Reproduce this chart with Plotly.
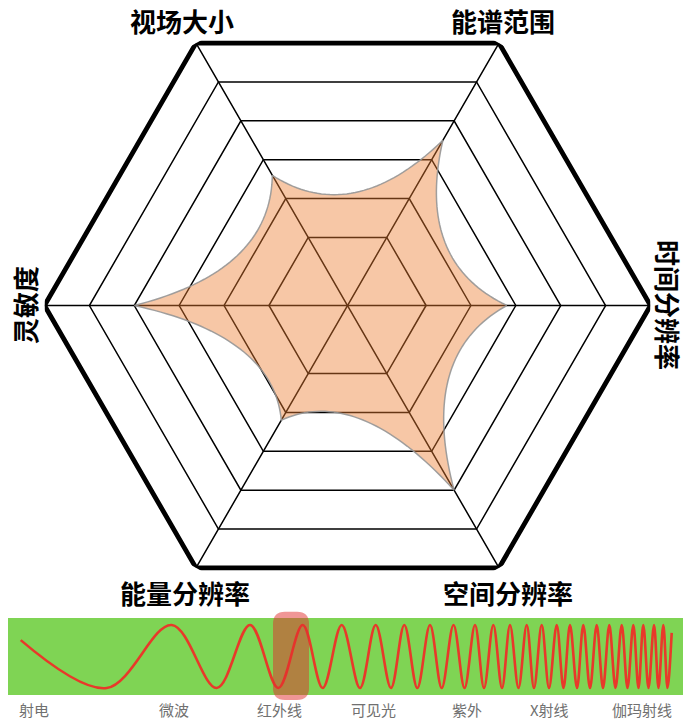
import math
import plotly.graph_objects as go

# ---------------- Radar data ----------------
categories = ["时间分辨率", "能谱范围", "视场大小", "灵敏度", "能量分辨率", "空间分辨率"]
angles = [0, 60, 120, 180, 240, 300]
values = [2.8, 3.5, 2.6, 4.0, 2.2, 4.0]
ring_levels = [1, 2, 3, 4, 5, 6]
radial_min = -0.75
curvature = 0.53  # how far the concave edge control point sits from the centre

# ---------------- Spectrum strip data ----------------
spectrum_labels = ["射电", "微波", "红外线", "可见光", "紫外", "X射线", "伽玛射线"]
spectrum_label_pos = [34, 174, 279, 373, 467, 549, 642]
wave_x = [20.7, 106.7, 171.7, 216.7, 250, 278.3, 302.7, 322.7, 341.7, 360,
          375.7, 391, 404.3, 417.3, 430, 441.7, 453.5, 464.5, 475, 484,
          493.3, 502, 510, 518.5, 526.7, 534, 541.7, 549, 556.7, 563.5,
          570, 577, 583.3, 590, 596.7, 603, 609.3, 615.5, 621.7, 627.5,
          633.3, 638.5, 643.3, 648.5, 654, 658.5, 663.3, 667.5, 671.7]
wave_y = [0.52, -1, 1, -1, 1, -1, 1, -1, 1, -1,
          1, -1, 1, -1, 1, -1, 1, -1, 1, -1,
          1, -1, 1, -1, 1, -1, 1, -1, 1, -1,
          1, -1, 1, -1, 1, -1, 1, -1, 1, -1,
          1, -1, 1, -1, 1, -1, 1, -1, 0.75]
band_x = [8, 683]
band_y = [-1.22, 1.22]
highlight_x = [273, 309]
highlight_y = [-1.38, 1.42]
highlight_corner = [12, 0.38]

fig = go.Figure()

# grid rings
for lv in ring_levels:
    fig.add_trace(go.Scatterpolar(
        r=[lv] * (len(angles) + 1), theta=angles + [angles[0] + 360],
        mode="lines", line=dict(color="black", width=4.8 if lv == ring_levels[-1] else 1.5),
        hoverinfo="skip", showlegend=False))
# spokes
for a in angles[:3]:
    fig.add_trace(go.Scatterpolar(
        r=[ring_levels[-1], radial_min, ring_levels[-1]], theta=[a, a, a + 180],
        mode="lines", line=dict(color="black", width=1.5),
        hoverinfo="skip", showlegend=False))

# concave star-shaped area built from the values
def to_xy(v, a):
    d = v - radial_min
    return d * math.cos(math.radians(a)), d * math.sin(math.radians(a))

fill_r, fill_t = [], []
n = len(values)
steps = 40
for i in range(n):
    p0 = to_xy(values[i], angles[i])
    p2 = to_xy(values[(i + 1) % n], angles[(i + 1) % n])
    c = (curvature * (p0[0] + p2[0]) / 2, curvature * (p0[1] + p2[1]) / 2)
    for s in range(steps):
        t = s / steps
        x = (1 - t) ** 2 * p0[0] + 2 * (1 - t) * t * c[0] + t ** 2 * p2[0]
        y = (1 - t) ** 2 * p0[1] + 2 * (1 - t) * t * c[1] + t ** 2 * p2[1]
        fill_r.append(math.hypot(x, y) + radial_min)
        fill_t.append(math.degrees(math.atan2(y, x)))
fill_r.append(fill_r[0])
fill_t.append(fill_t[0])

fig.add_trace(go.Scatterpolar(
    r=fill_r, theta=fill_t, mode="lines", fill="toself",
    fillcolor="rgba(237,125,49,0.43)", line=dict(color="rgba(150,150,150,0.9)", width=1.5),
    hoverinfo="skip", showlegend=False))

# wave
fig.add_trace(go.Scatter(
    x=wave_x, y=wave_y, mode="lines", line=dict(color="#e8392a", width=2.6, shape="spline"),
    hoverinfo="skip", showlegend=False, xaxis="x", yaxis="y"))

x0, x1 = highlight_x
y0, y1 = highlight_y
rx, ry = highlight_corner
hl_path = (f"M {x0+rx},{y0} L {x1-rx},{y0} Q {x1},{y0} {x1},{y0+ry} "
           f"L {x1},{y1-ry} Q {x1},{y1} {x1-rx},{y1} L {x0+rx},{y1} "
           f"Q {x0},{y1} {x0},{y1-ry} L {x0},{y0+ry} Q {x0},{y0} {x0+rx},{y0} Z")

shapes = [
    dict(type="rect", xref="x", yref="y", x0=band_x[0], x1=band_x[1], y0=band_y[0], y1=band_y[1],
         fillcolor="#7fd454", line=dict(width=0), layer="below"),
    dict(type="path", xref="x", yref="y", path=hl_path,
         fillcolor="rgba(225,45,45,0.5)", line=dict(width=0), layer="above"),
]

# axis labels
lab_font = dict(family="Noto Sans CJK SC", size=26, color="black")
label_specs = {
    "视场大小": (0.2626, 0.971, 0),
    "能谱范围": (0.7258, 0.971, 0),
    "灵敏度": (0.0361, 0.577, -90),
    "时间分辨率": (0.964, 0.577, 90),
    "能量分辨率": (0.267, 0.1782, 0),
    "空间分辨率": (0.733, 0.1782, 0),
}
annotations = []
for cat in categories:
    x, y, ang = label_specs[cat]
    annotations.append(dict(text=f"<b>{cat}</b>", x=x, y=y, xref="paper", yref="paper",
                            showarrow=False, textangle=ang, font=lab_font,
                            xanchor="center", yanchor="middle"))
for lab, pos in zip(spectrum_labels, spectrum_label_pos):
    annotations.append(dict(text=lab, x=pos, y=0.0153, xref="x", yref="paper",
                            showarrow=False, font=dict(family="Noto Sans CJK SC", size=15, color="#707070"),
                            xanchor="center", yanchor="middle"))

# polar placement: centre (347.5, 305.5) px from top-left, radius 303 px
cx, cy, rad, W, H = 347.5, 305.5, 303, 693, 721
fig.update_layout(
    width=W, height=H, margin=dict(l=0, r=0, t=0, b=0),
    paper_bgcolor="white", plot_bgcolor="rgba(0,0,0,0)",
    polar=dict(
        domain=dict(x=[(cx - rad) / W, (cx + rad) / W],
                    y=[(H - cy - rad) / H, (H - cy + rad) / H]),
        bgcolor="rgba(0,0,0,0)",
        radialaxis=dict(range=[radial_min, ring_levels[-1]], visible=False),
        angularaxis=dict(visible=False, rotation=0, direction="counterclockwise"),
    ),
    xaxis=dict(domain=[0, 1], range=[0, 693], visible=False, fixedrange=True),
    yaxis=dict(domain=[0, 0.16782], range=[-2.0476, 1.7937], visible=False, fixedrange=True),
    shapes=shapes, annotations=annotations, showlegend=False,
)

fig.write_html("out.html", config={"displayModeBar": False, "staticPlot": True},
               post_script="document.body.style.margin='0';document.body.style.padding='0';document.body.style.overflow='hidden';")
